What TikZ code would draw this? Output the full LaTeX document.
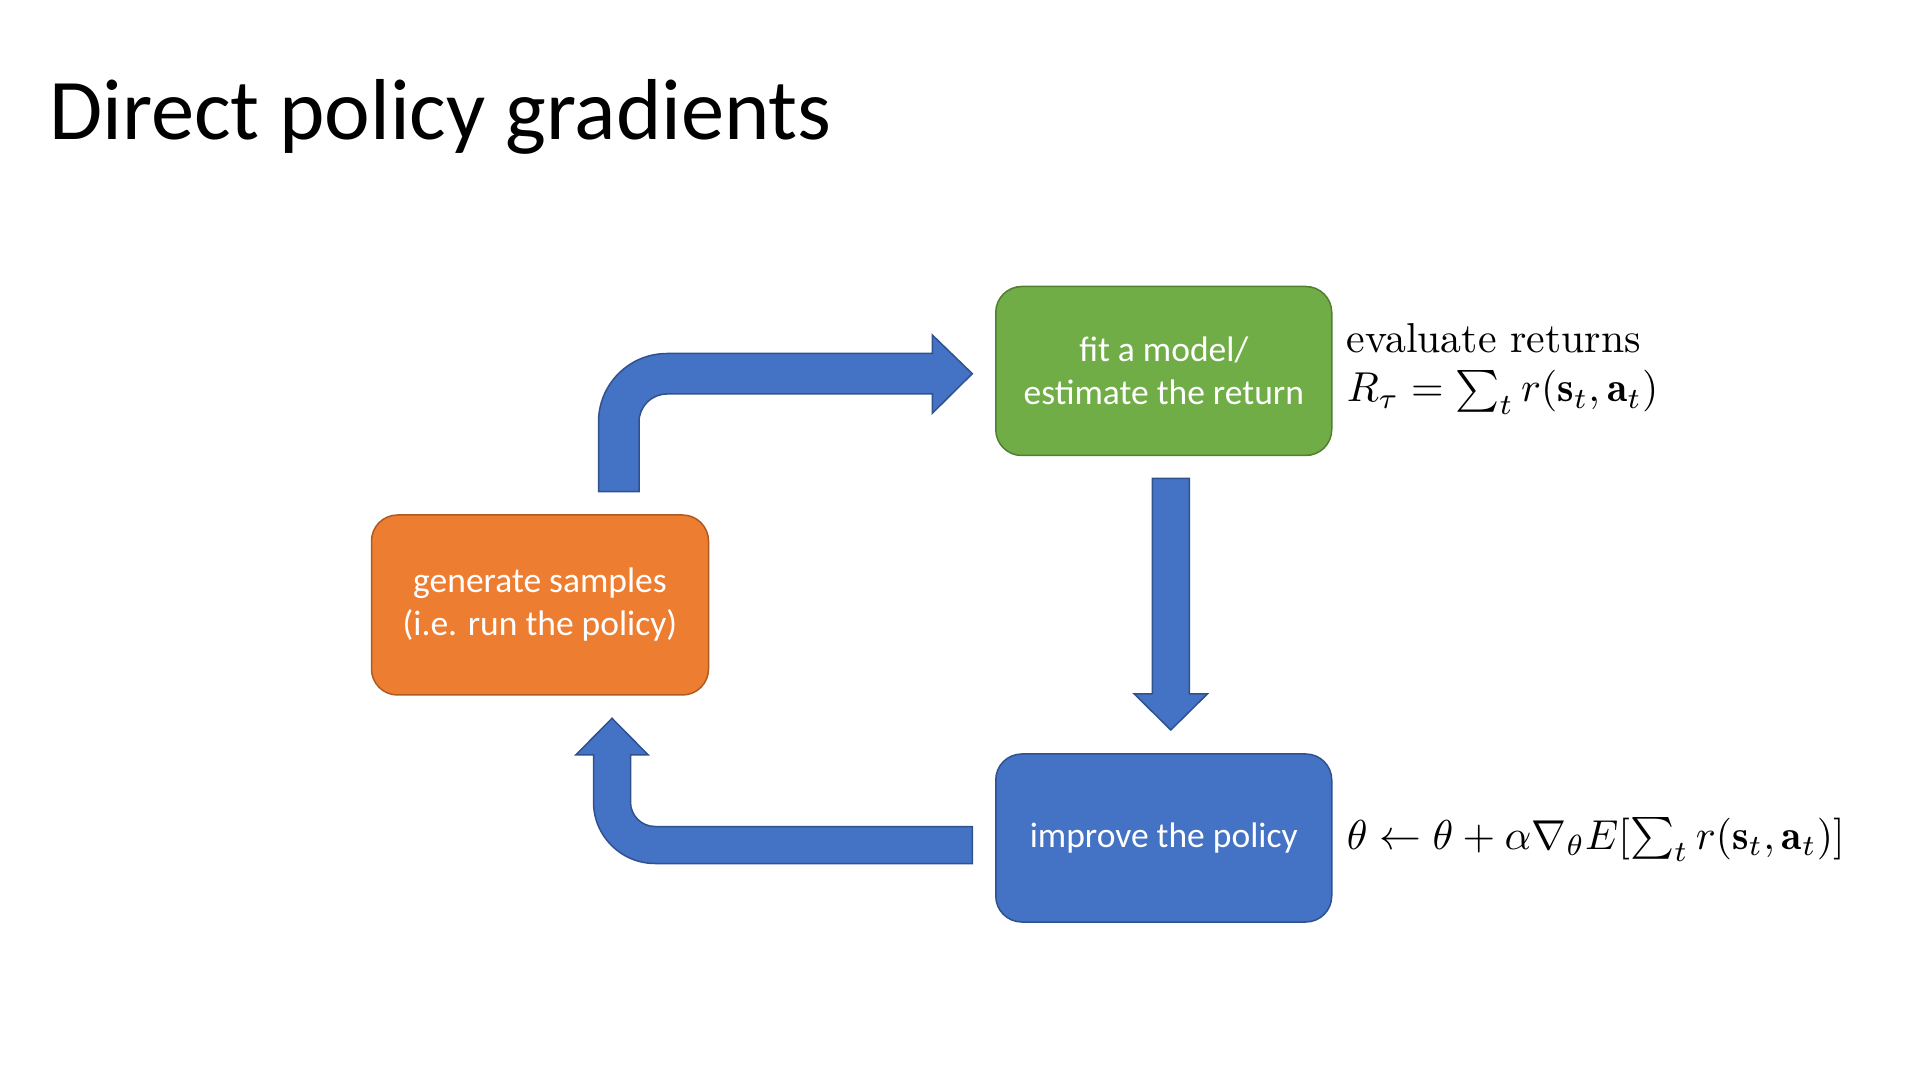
\documentclass[tikz,border=0pt]{standalone}
\usepackage{fontspec}
\newfontfamily\calfont{Carlito}
\definecolor{bluefill}{HTML}{4472C4}
\definecolor{blueline}{HTML}{2F528F}
\definecolor{greenfill}{HTML}{70AD47}
\definecolor{greenline}{HTML}{507E32}
\definecolor{orangefill}{HTML}{ED7D31}
\definecolor{orangeline}{HTML}{AE5A21}
\tikzset{
  stagebox/.style={rounded corners=26pt, line width=1.5pt, minimum width=336pt, text=white,
    align=center, font=\calfont\fontsize{35.5}{43}\selectfont, inner sep=0pt},
  blockarrow/.style={fill=bluefill, draw=blueline, line width=1.5pt, line join=miter},
  mathlabel/.style={anchor=base west, inner sep=0pt, font=\fontsize{10}{13}\selectfont, scale=4.18, transform shape}
}
\begin{document}
\begin{tikzpicture}[x=1pt,y=1pt]
\useasboundingbox (0,0) rectangle (1920,1080);
\node[anchor=base west, inner sep=0pt, font=\calfont\fontsize{86.5}{100}\selectfont] (title) at (49,940) {Direct policy gradients};
% boxes
\node[stagebox, fill=greenfill, draw=greenline, minimum height=169pt] (fit) at (1163.75,709) {fit a model/\\estimate the return};
\node[stagebox, fill=orangefill, draw=orangeline, minimum width=337pt, minimum height=180pt] (gen) at (540,475) {generate samples\\(i.e. run the policy)};
\node[stagebox, fill=bluefill, draw=blueline, minimum height=168pt] (imp) at (1163.75,242) {improve the policy};
% labels
\node[mathlabel] (evl) at (1346,727) {evaluate returns};
\node[mathlabel] (ret) at (1346,678) {$R_\tau=\sum_t r(\mathbf{s}_t,\mathbf{a}_t)$};
\node[mathlabel] (upd) at (1346,231) {$\theta\leftarrow\theta+\alpha\nabla_\theta E[\sum_t r(\mathbf{s}_t,\mathbf{a}_t)]$};
% top bent arrow
\draw[blockarrow] (598.5,588.3) -- (598.5,658) arc[start angle=180,end angle=90,radius=68.5]
  -- (932.3,726.5) -- (932.3,745) -- (972.3,706.3) -- (932.3,666.7) -- (932.3,686)
  -- (667,686) arc[start angle=90,end angle=180,radius=28] -- (639,588.3) -- cycle;
% down arrow
\draw[blockarrow] (1152.3,601.7) -- (1189.3,601.7) -- (1189.3,386) -- (1207.3,386)
  -- (1170.8,350) -- (1134.3,386) -- (1152.3,386) -- cycle;
% bottom bent arrow
\draw[blockarrow] (972.3,253.5) -- (655,253.5) arc[start angle=270,end angle=180,radius=24.5]
  -- (630.5,325) -- (648.3,325) -- (612,361.7) -- (575.7,325) -- (593.5,325) -- (593.5,278)
  arc[start angle=180,end angle=270,radius=61.5] -- (972.3,216.5) -- cycle;
\end{tikzpicture}
\end{document}
